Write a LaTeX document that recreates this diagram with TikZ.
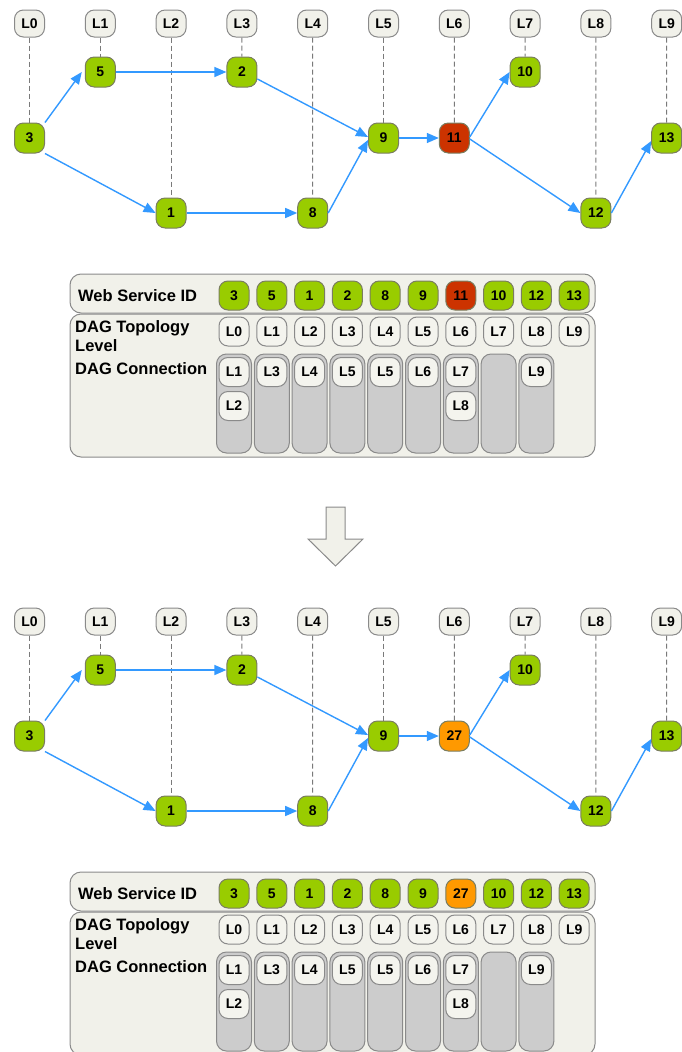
\documentclass[tikz,border=0pt]{standalone}
\usepackage{fontspec}
\setmainfont{Liberation Sans}
\usetikzlibrary{arrows.meta}

\definecolor{edgeblue}{HTML}{3399FF}
\definecolor{svcgreen}{HTML}{99CC00}
\definecolor{svcred}{HTML}{CC3300}
\definecolor{svcorange}{HTML}{FF9900}
\definecolor{svcborder}{HTML}{7A7D60}
\definecolor{boxfill}{HTML}{F1F1EA}
\definecolor{cellfill}{HTML}{F4F4EE}
\definecolor{boxborder}{HTML}{8A8A8A}
\definecolor{slotfill}{HTML}{CCCCCC}
\definecolor{guidegray}{HTML}{7A7A7A}

\tikzset{
  x=1pt, y=-1pt,
  svc/.style={draw=svcborder, fill=svcgreen, rounded corners=9pt, line width=1pt,
    minimum width=30pt, minimum height=30pt, inner sep=0pt,
    font=\bfseries\fontsize{14}{14}\selectfont},
  tsvc/.style={svc, minimum height=29pt},
  lvl/.style={draw=boxborder, fill=boxfill, rounded corners=9pt, line width=1pt,
    minimum width=30pt, minimum height=27pt, inner sep=0pt,
    font=\bfseries\fontsize{14}{14}\selectfont},
  cell/.style={lvl, fill=cellfill, minimum height=29pt},
  slot/.style={draw=boxborder, fill=slotfill, rounded corners=10pt, line width=1pt,
    minimum width=35pt, minimum height=99pt, inner sep=0pt},
  panel/.style={draw=boxborder, fill=boxfill, rounded corners=11pt, line width=1pt},
  rowlabel/.style={anchor=west, inner sep=0pt, align=left,
    font=\bfseries\fontsize{16.5}{19}\selectfont},
  guide/.style={draw=guidegray, line width=1pt, dash pattern=on 5pt off 3pt},
  link/.style={draw=edgeblue, line width=1.4pt, -{Triangle[length=12pt,width=10pt]}},
  bigarrow/.style={draw=boxborder, fill=boxfill, line width=1pt, line join=miter},
}

% One workflow panel: the DAG of services above, its encoding table below.
% #1 vertical offset, #2 name prefix, #3 id of the level-6 service, #4 its fill
\newcommand\dagpanel[4]{%
\begin{scope}[shift={(0,#1)}]
  % topology level headers
  \foreach \i in {0,...,9}
    \node[lvl] (#2h\i) at ({29.5+70.8*\i},23.5) {L\i};
  % services
  \node[svc] (#2c0) at ( 29.5,138) {3};
  \node[svc] (#2c1) at (100.3, 72) {5};
  \node[svc] (#2c2) at (171.1,213) {1};
  \node[svc] (#2c3) at (241.9, 72) {2};
  \node[svc] (#2c4) at (312.7,213) {8};
  \node[svc] (#2c5) at (383.5,138) {9};
  \node[svc, fill=#4] (#2c6) at (454.3,138) {#3};
  \node[svc] (#2c7) at (525.1, 72) {10};
  \node[svc] (#2c8) at (595.9,213) {12};
  \node[svc] (#2c9) at (666.7,138) {13};
  % level guides
  \foreach \i in {0,...,9}
    \draw[guide] (#2h\i.south) -- (#2c\i.north);
  % dependencies
  \draw[link] (#2c0.north east) -- ([xshift=-3pt]#2c1.west);
  \draw[link] (#2c0.south east) -- (#2c2.west);
  \draw[link] (#2c1.east) -- (#2c3.west);
  \draw[link] ([yshift=-7pt]#2c3.east) -- ([yshift=1pt]#2c5.west);
  \draw[link] (#2c2.east) -- (#2c4.west);
  \draw[link] (#2c4.east) -- ([yshift=-2pt]#2c5.west);
  \draw[link] (#2c5.east) -- (#2c6.west);
  \draw[link] ([yshift=1pt]#2c6.east) -- (#2c7.west);
  \draw[link] ([yshift=-1pt]#2c6.east) -- (#2c8.west);
  \draw[link] (#2c8.east) -- ([yshift=-3pt]#2c9.west);
  % encoding table
  \draw[panel] (70,314) rectangle (595,457);
  \draw[panel] (70,274) rectangle (595,313);
  \node[rowlabel] (#2rid) at (78,295.5) {Web Service ID};
  \node[rowlabel] (#2rtop) at (75,336.5) {DAG Topology\\Level};
  \node[rowlabel] (#2rcon) at (75,369) {DAG Connection};
  \foreach \v/\k in {3/0,5/1,1/2,2/3,8/4,9/5,10/7,12/8,13/9}
    \node[tsvc] (#2s\k) at ({234+37.8*\k},295.5) {\v};
  \node[tsvc, fill=#4] (#2s6) at ({234+37.8*6},295.5) {#3};
  \foreach \k in {0,...,9}
    \node[cell] (#2l\k) at ({234+37.8*\k},331.5) {L\k};
  \foreach \k in {0,...,8}
    \node[slot] (#2g\k) at ({234+37.8*\k},403.5) {};
  \foreach \k/\t/\r in {0/L1/0,0/L2/1,1/L3/0,2/L4/0,3/L5/0,4/L5/0,5/L6/0,6/L7/0,6/L8/1,8/L9/0}
    \node[cell] (#2k\k\r) at ({234+37.8*\k},{372+34*\r}) {\t};
\end{scope}}

\begin{document}
\begin{tikzpicture}
  \useasboundingbox (0,0) rectangle (681,1052);
  \dagpanel{0}{a}{11}{svcred}
  % transformation arrow
  \draw[bigarrow] (326,507) -- (345,507) -- (345,539) -- (363,539)
    -- (335.5,566) -- (308,539) -- (326,539) -- cycle;
  \dagpanel{598}{b}{27}{svcorange}
\end{tikzpicture}
\end{document}
